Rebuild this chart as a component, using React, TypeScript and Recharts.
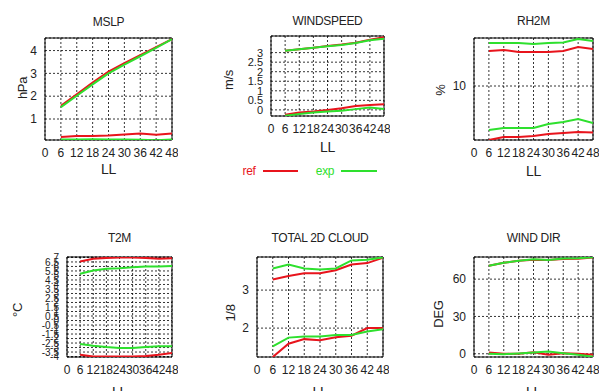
import React from "react";
import { LineChart, Line, XAxis, YAxis, CartesianGrid, ReferenceArea } from "recharts";

const HOURS = [6, 12, 18, 24, 30, 36, 42, 48];
const X_TICKS = [0, 6, 12, 18, 24, 30, 36, 42, 48];

// MSLP (hPa)
const mslpRefA = [1.58, 2.08, 2.6, 3.08, 3.45, 3.8, 4.15, 4.5];
const mslpExpA = [1.52, 2.02, 2.52, 3.0, 3.38, 3.75, 4.12, 4.5];
const mslpRefB = [0.21, 0.26, 0.26, 0.28, 0.32, 0.37, 0.31, 0.37];
const mslpExpB = [0.1, 0.1, 0.11, 0.1, 0.1, 0.09, 0.07, 0.1];

// WINDSPEED (m/s)
const wsRefA = [3.1, 3.18, 3.25, 3.35, 3.42, 3.52, 3.68, 3.8];
const wsExpA = [3.1, 3.18, 3.25, 3.33, 3.4, 3.5, 3.65, 3.72];
const wsRefB = [-0.26, -0.14, -0.09, 0, 0.09, 0.2, 0.25, 0.3];
const wsExpB = [-0.31, -0.21, -0.14, -0.09, -0.05, 0.04, 0.12, 0.04];

// RH2M (%)
const rhRefA = [13.5, 13.6, 13.4, 13.4, 13.4, 13.5, 13.9, 13.7];
const rhExpA = [14.3, 14.3, 14.3, 14.2, 14.3, 14.35, 14.7, 14.5];
const rhRefB = [4.6, 4.9, 4.9, 5.0, 5.2, 5.3, 5.4, 5.35];
const rhExpB = [5.6, 5.8, 5.8, 5.8, 6.2, 6.4, 6.7, 6.3];

// T2M (°C)
const t2RefA = [6.55, 6.85, 6.95, 7.0, 7.0, 6.95, 6.85, 6.9];
const t2ExpA = [5.2, 5.55, 5.75, 5.8, 5.9, 6.0, 6.0, 6.05];
const t2RefB = [-3.8, -4.0, -4.0, -4.0, -4.0, -3.95, -3.8, -3.6];
const t2ExpB = [-2.6, -2.8, -2.95, -3.05, -3.05, -2.95, -2.85, -2.85];

// TOTAL 2D CLOUD (1/8)
const clRefA = [3.28, 3.37, 3.44, 3.44, 3.52, 3.67, 3.71, 3.85];
const clExpA = [3.57, 3.67, 3.57, 3.54, 3.57, 3.78, 3.8, 3.86];
const clRefB = [1.24, 1.59, 1.71, 1.68, 1.76, 1.8, 2.0, 2.0];
const clExpB = [1.52, 1.75, 1.78, 1.78, 1.82, 1.82, 1.91, 1.97];

// WIND DIR (DEG)
const wdRefA = [70.7, 73.1, 74.7, 75.5, 75.3, 76.2, 76.3, 77.5];
const wdExpA = [70.7, 73.1, 74.7, 76.0, 75.3, 76.6, 76.8, 77.5];
const wdRefB = [1.1, 0, 0, 1.3, -0.8, 0.5, 0, -0.8];
const wdExpB = [0, -0.3, 0.3, 1.0, 1.8, 0.5, -0.8, -2.4];

const RED = "#e8141c";
const GREEN = "#2ee02e";
const FONT = "'Liberation Sans', Arial, sans-serif";

const halfSteps = (from: number, to: number) => {
  const out: number[] = [];
  for (let v = from; v <= to + 1e-9; v += 0.5) out.push(Math.round(v * 10) / 10);
  return out;
};

function rows(refA: number[], refB: number[], expA: number[], expB: number[]) {
  return HOURS.map((h, i) => ({ h, refA: refA[i], refB: refB[i], expA: expA[i], expB: expB[i] }));
}

function Label({ x, y, text, size = 12, rotate = false, color = "#222" }: { x: number; y: number; text: string; size?: number; rotate?: boolean; color?: string }) {
  return (
    <div style={{
      position: "absolute", left: x, top: y, whiteSpace: "nowrap", lineHeight: 1,
      transform: `translate(-50%, -50%)${rotate ? " rotate(-90deg)" : ""}`,
      fontFamily: FONT, fontSize: size, color, letterSpacing: "-0.3px",
    }}>{text}</div>
  );
}

interface PanelProps {
  title: string; yLabel: string;
  box: [number, number, number, number];
  domain: [number, number]; yTicks: number[];
  data: ReturnType<typeof rows>;
  titleY: number; yLabelX: number; yLabelY: number; llY: number;
  yTickSize?: number;
}

function Panel({ title, yLabel, box, domain, yTicks, data, titleY, yLabelX, yLabelY, llY, yTickSize = 12 }: PanelProps) {
  const [x0, y0, x1, y1] = box;
  const padL = 50, padT = 10, padR = 6, axisH = 30;
  const cx = (x0 + x1) / 2;
  return (
    <>
      <div style={{ position: "absolute", left: x0 - padL, top: y0 - padT }}>
        <LineChart width={x1 - x0 + padL + padR} height={y1 - y0 + padT + axisH} data={data}
          margin={{ top: padT, right: padR, bottom: 0, left: 0 }}>
          <CartesianGrid stroke="#000" strokeDasharray="2 2" strokeWidth={0.8} />
          <XAxis dataKey="h" type="number" domain={[0, 48]} ticks={X_TICKS} interval={0}
            tickLine={false} axisLine={false} height={axisH} allowDataOverflow
            tick={{ fontSize: 12, fill: "#222", fontFamily: FONT }} />
          <YAxis type="number" domain={domain} ticks={yTicks} interval={0} width={padL}
            tickLine={false} axisLine={false} allowDataOverflow
            tick={{ fontSize: yTickSize, fill: "#222", fontFamily: FONT }} />
          <ReferenceArea x1={0} x2={48} y1={domain[0]} y2={domain[1]} fill="none" fillOpacity={0} stroke="#000" strokeWidth={1} />
          <Line dataKey="refA" stroke={RED} strokeWidth={2} dot={false} isAnimationActive={false} />
          <Line dataKey="refB" stroke={RED} strokeWidth={2} dot={false} isAnimationActive={false} />
          <Line dataKey="expA" stroke={GREEN} strokeWidth={2} dot={false} isAnimationActive={false} />
          <Line dataKey="expB" stroke={GREEN} strokeWidth={2} dot={false} isAnimationActive={false} />
        </LineChart>
      </div>
      <Label x={cx} y={titleY} text={title} size={12} />
      <Label x={yLabelX} y={yLabelY} text={yLabel} size={13} rotate />
      <Label x={cx} y={llY} text="LL" size={14} />
    </>
  );
}

export default function App() {
  return (
    <div style={{ position: "absolute", left: 0, top: 0, width: 599, height: 391, background: "#fff", overflow: "hidden" }}>
      <Panel title="MSLP" yLabel="hPa" box={[45, 38, 172, 140]} domain={[0.08, 4.55]} yTicks={[1, 2, 3, 4]}
        data={rows(mslpRefA, mslpRefB, mslpExpA, mslpExpB)} titleY={22} yLabelX={22} yLabelY={88} llY={169} />
      <Panel title="WINDSPEED" yLabel="m/s" box={[271, 36, 384, 116]} domain={[-0.32, 3.87]} yTicks={halfSteps(0, 3)}
        data={rows(wsRefA, wsRefB, wsExpA, wsExpB)} titleY={21} yLabelX={228} yLabelY={80} llY={147} yTickSize={11} />
      <Panel title="RH2M" yLabel="%" box={[474, 38, 593, 140]} domain={[4.6, 14.8]} yTicks={[10]}
        data={rows(rhRefA, rhRefB, rhExpA, rhExpB)} titleY={21} yLabelX={440} yLabelY={90} llY={171} />
      <Panel title="T2M" yLabel="°C" box={[67, 257, 172, 357]} domain={[-4.05, 7.05]} yTicks={halfSteps(-4, 7)}
        data={rows(t2RefA, t2RefB, t2ExpA, t2ExpB)} titleY={238} yLabelX={17} yLabelY={310} llY={392} yTickSize={10} />
      <Panel title="TOTAL 2D CLOUD" yLabel="1/8" box={[257, 257, 383, 357]} domain={[1.24, 3.87]} yTicks={[2, 3]}
        data={rows(clRefA, clRefB, clExpA, clExpB)} titleY={238} yLabelX={230} yLabelY={313} llY={392} />
      <Panel title="WIND DIR" yLabel="DEG" box={[474, 257, 593, 357]} domain={[-2.6, 77.8]} yTicks={[0, 30, 60]}
        data={rows(wdRefA, wdRefB, wdExpA, wdExpB)} titleY={238} yLabelX={438} yLabelY={314} llY={392} />

      {/* legend */}
      <Label x={249} y={171} text="ref" size={12} color={RED} />
      <div style={{ position: "absolute", left: 263, top: 170, width: 35, height: 2, background: RED }} />
      <Label x={325} y={171} text="exp" size={12} color={GREEN} />
      <div style={{ position: "absolute", left: 341, top: 170, width: 36, height: 2, background: GREEN }} />
    </div>
  );
}
